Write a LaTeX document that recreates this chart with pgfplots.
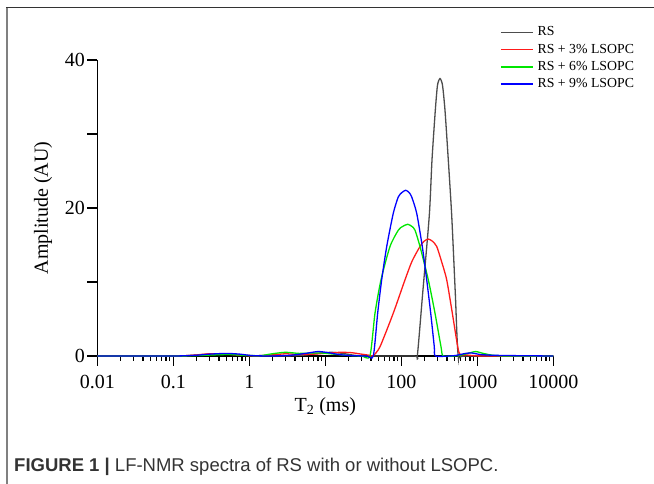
\documentclass[border=0pt]{standalone}
\usepackage{fontspec}
\setmainfont{Liberation Serif}
\newfontfamily\capfont{Liberation Sans}
\usepackage{pgfplots}
\pgfplotsset{compat=1.18}
\definecolor{rsgray}{HTML}{4D4D4D}
\definecolor{rsred}{HTML}{FF1A1A}
\definecolor{rsgreen}{HTML}{00E600}
\definecolor{rsblue}{HTML}{0000FF}
\newcommand{\lf}{\fontsize{13.8}{15}\selectfont}
\begin{document}
\begin{tikzpicture}[x=1pt,y=1pt]
\useasboundingbox (0,0) rectangle (654,484);
\draw[line width=1.2pt, color=black!50] (7,0) -- (7,476.5);
\draw[line width=1.2pt, color=black!80] (6.4,476.5) -- (654,476.5);
\begin{axis}[
    at={(97.3pt,128pt)}, anchor=south west,
    scale only axis, width=456pt, height=296pt,
    xmode=log, xmin=0.01, xmax=10000, ymin=0, ymax=40,
    axis x line*=bottom, axis y line*=left,
    axis line style={-, line width=1.3pt},
    tick align=outside, major tick length=10pt, minor tick length=5pt,
    tick style={line width=1.2pt, black},
    xtick={0.01,0.1,1,10,100,1000,10000},
    minor xtick={0.02,0.03,0.04,0.05,0.06,0.07,0.08,0.09,
                 0.2,0.3,0.4,0.5,0.6,0.7,0.8,0.9,
                 2,3,4,5,6,7,8,9,
                 20,30,40,50,60,70,80,90,
                 200,300,400,500,600,700,800,900,
                 2000,3000,4000,5000,6000,7000,8000,9000},
    log ticks with fixed point,
    ytick={0,10,20,30,40}, yticklabels={0,,20,,40},
    /pgf/number format/1000 sep={},
    /pgf/number format/assume math mode=true,
    ticklabel style={font=\fontsize{20}{22}\selectfont},
    xticklabel style={yshift=-6pt},
    yticklabel style={xshift=1pt},
    label style={font=\fontsize{20}{24}\selectfont},
    xlabel={T\textsubscript{2} (ms)},
    ylabel={Amplitude (AU)},
    xlabel style={at={(axis description cs:0.5,-0.172)}, anchor=center},
    ylabel style={at={(axis description cs:-0.119,0.5)}, anchor=center},
    clip=false,
    legend style={at={(axis description cs:0.883,1.116)}, anchor=north west,
        draw=none, fill=none, inner sep=0pt,
        nodes={inner sep=0pt, text height=10pt, text depth=3pt},
        row sep=4.2pt, column sep=4pt},
    legend cell align=left,
    legend image code/.code={\draw[#1, line width=1.5pt] (0pt,0pt) -- (32pt,0pt);},
    every axis plot/.append style={line width=1.3pt, smooth, tension=0.4},
]
\addplot[rsgray] coordinates {
 (0.01,0) (0.1,0) (0.15,0.05) (0.25,0.2) (0.4,0.3) (0.6,0.25) (0.9,0.08) (1.3,0)
 (3,0) (5,0.1) (8,0.35) (12,0.5) (17,0.35) (24,0.1) (35,0) (150,0)
 (162.4,0) (191.2,8.5) (233.6,19) (253.5,26.5) (280.2,33.2) (299.5,36.6)
 (323.1,37.5) (348.5,36.6) (375.8,33.2) (415.3,26.5) (460.5,19) (513.5,8.5)
 (562.3,0) (700,0) (10000,0)
};
\addlegendentry{\lf RS}
\addplot[rsred] coordinates {
 (0.01,0) (0.1,0) (0.18,0.1) (0.3,0.3) (0.5,0.25) (0.8,0.1) (1.2,0.03) (2,0.15)
 (3,0.3) (4.5,0.2) (7,0.25) (11,0.4) (16,0.5) (22,0.45) (30,0.25) (38,0.1)
 (42.8,0.05) (52.5,1.26) (78.5,5.8) (111.9,10.3) (138.3,12.8) (176.2,14.8)
 (198.9,15.5) (226.6,15.8) (257.4,15.5) (292.4,14.8) (338,12.8) (395.8,10.3)
 (469,5.8) (552.3,1.26) (592.3,0.2) (700,0.15) (900,0.05) (1300,0) (10000,0)
};
\addlegendentry{\lf RS + 3\% LSOPC}
\addplot[rsgreen] coordinates {
 (0.01,0) (0.1,0) (0.2,0.05) (0.35,0.15) (0.55,0.2) (0.9,0.08) (1.4,0.05) (2,0.3)
 (3,0.5) (4.5,0.35) (6.5,0.4) (9,0.4) (13,0.25) (20,0.08) (30,0) (38.7,0)
 (45.1,5.8) (54.1,10.3) (71,14.8) (91.3,17.0) (103.7,17.5) (121.4,17.8)
 (138.3,17.5) (151.5,17.0) (176.2,14.8) (226.6,10.3) (277.5,5.8) (333,1.26)
 (356.9,0) (550,0.05) (750,0.35) (950,0.6) (1200,0.35) (1600,0.1) (2500,0) (10000,0)
};
\addlegendentry{\lf RS + 6\% LSOPC}
\addplot[rsblue] coordinates {
 (0.01,0) (0.1,0) (0.2,0.1) (0.3,0.25) (0.5,0.35) (0.75,0.25) (1.1,0.05) (2,0)
 (3.5,0.1) (5.5,0.35) (8,0.6) (11,0.45) (15,0.2) (22,0.05) (35,0) (42.8,0)
 (48.9,5.8) (55.2,10.3) (64.3,14.8) (78.5,19.3) (91.3,21.5) (102.1,22.1)
 (114.3,22.4) (126.3,22.1) (137,21.5) (159.4,19.3) (188.9,14.8) (215.9,10.3)
 (243.7,5.8) (271.8,1.26) (283.6,0) (500,0.05) (700,0.35) (850,0.4) (1100,0.2)
 (1600,0.1) (3000,0.05) (10000,0)
};
\addlegendentry{\lf RS + 9\% LSOPC}
\end{axis}
\node[anchor=base west, inner sep=0pt, text=black!80, font=\capfont\fontsize{18.5}{22}\selectfont]
  at (14,12.3) {\textbf{FIGURE 1 |} LF-NMR spectra of RS with or without LSOPC.};
\end{tikzpicture}
\end{document}
